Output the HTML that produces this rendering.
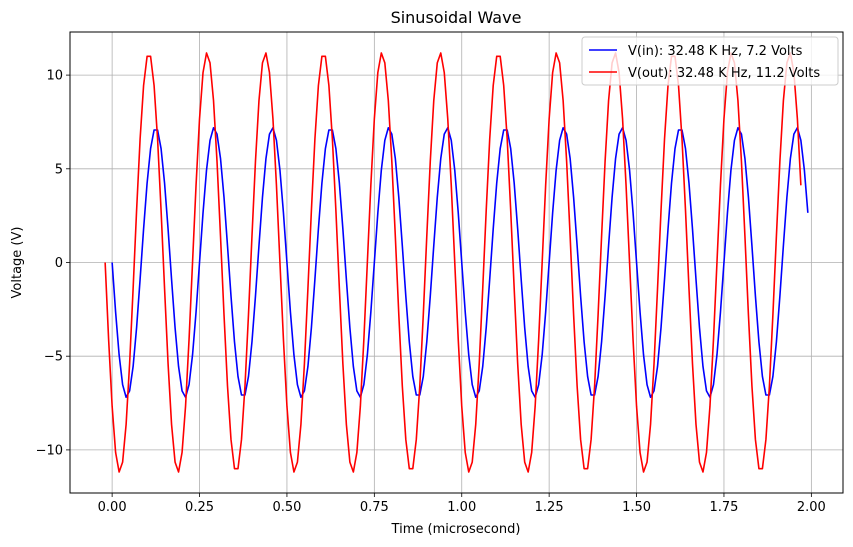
<!DOCTYPE html>
<html><head><meta charset="utf-8"><style>
body{margin:0;background:#fff;}
svg{display:block;font-family:"DejaVu Sans","Liberation Sans",sans-serif;}
</style></head><body>
<svg id="chart" width="853" height="547">
<text x="456" y="23" font-size="16" text-anchor="middle">Sinusoidal Wave</text>
<g id="grid"></g>
<g id="series"></g>
<rect x="70" y="32" width="773" height="461" fill="none" stroke="#000" stroke-width="1"/>
<g id="ticks"></g>
<text x="456" y="533" font-size="13" text-anchor="middle">Time (microsecond)</text>
<text transform="translate(21,262.5) rotate(-90)" font-size="13" text-anchor="middle">Voltage (V)</text>
<g>
<rect x="582" y="37" width="256" height="48" rx="3" fill="#fff" fill-opacity="0.8" stroke="#ccc"/>
<line x1="589" y1="50" x2="617" y2="50" stroke="#0000ff" stroke-width="1.6"/>
<text x="628" y="55" font-size="13">V(in): 32.48 K Hz, 7.2 Volts</text>
<line x1="589" y1="72" x2="617" y2="72" stroke="#ff0000" stroke-width="1.6"/>
<text x="628" y="77" font-size="13">V(out): 32.48 K Hz, 11.2 Volts</text>
</g>
</svg>
<script>
const xTicks=[0,0.25,0.5,0.75,1.0,1.25,1.5,1.75,2.0];
const xTickLabels=["0.00","0.25","0.50","0.75","1.00","1.25","1.50","1.75","2.00"];
const yTicks=[-10,-5,0,5,10];
const yTickLabels=["\u221210","\u22125","0","5","10"];
const vinStart=0, voutStart=-0.02, sampleStep=0.01;
const vin=[
0,-2.65,-4.93,-6.52,-7.19,-6.85,-5.55,-3.47,-0.90,1.79,4.23,6.08,7.07,7.07,6.08,4.23,1.79,-0.90,-3.47,-5.55,-6.85,-7.19,-6.52,-4.93,-2.65,0,2.65,4.93,6.52,7.19,6.85,5.55,3.47,0.90,-1.79,-4.23,-6.08,-7.07,-7.07,-6.08,-4.23,-1.79,0.90,3.47,5.55,6.85,7.19,6.52,4.93,2.65,
0,-2.65,-4.93,-6.52,-7.19,-6.85,-5.55,-3.47,-0.90,1.79,4.23,6.08,7.07,7.07,6.08,4.23,1.79,-0.90,-3.47,-5.55,-6.85,-7.19,-6.52,-4.93,-2.65,0,2.65,4.93,6.52,7.19,6.85,5.55,3.47,0.90,-1.79,-4.23,-6.08,-7.07,-7.07,-6.08,-4.23,-1.79,0.90,3.47,5.55,6.85,7.19,6.52,4.93,2.65,
0,-2.65,-4.93,-6.52,-7.19,-6.85,-5.55,-3.47,-0.90,1.79,4.23,6.08,7.07,7.07,6.08,4.23,1.79,-0.90,-3.47,-5.55,-6.85,-7.19,-6.52,-4.93,-2.65,0,2.65,4.93,6.52,7.19,6.85,5.55,3.47,0.90,-1.79,-4.23,-6.08,-7.07,-7.07,-6.08,-4.23,-1.79,0.90,3.47,5.55,6.85,7.19,6.52,4.93,2.65,
0,-2.65,-4.93,-6.52,-7.19,-6.85,-5.55,-3.47,-0.90,1.79,4.23,6.08,7.07,7.07,6.08,4.23,1.79,-0.90,-3.47,-5.55,-6.85,-7.19,-6.52,-4.93,-2.65,0,2.65,4.93,6.52,7.19,6.85,5.55,3.47,0.90,-1.79,-4.23,-6.08,-7.07,-7.07,-6.08,-4.23,-1.79,0.90,3.47,5.55,6.85,7.19,6.52,4.93,2.65];
const vout=[
0,-4.12,-7.67,-10.14,-11.18,-10.65,-8.64,-5.40,-1.40,2.79,6.59,9.45,11.0,11.0,9.45,6.59,2.79,-1.40,-5.40,-8.64,-10.65,-11.18,-10.14,-7.67,-4.12,0,4.12,7.67,10.14,11.18,10.65,8.64,5.40,1.40,-2.79,-6.59,-9.45,-11.0,-11.0,-9.45,-6.59,-2.79,1.40,5.40,8.64,10.65,11.18,10.14,7.67,4.12,
0,-4.12,-7.67,-10.14,-11.18,-10.65,-8.64,-5.40,-1.40,2.79,6.59,9.45,11.0,11.0,9.45,6.59,2.79,-1.40,-5.40,-8.64,-10.65,-11.18,-10.14,-7.67,-4.12,0,4.12,7.67,10.14,11.18,10.65,8.64,5.40,1.40,-2.79,-6.59,-9.45,-11.0,-11.0,-9.45,-6.59,-2.79,1.40,5.40,8.64,10.65,11.18,10.14,7.67,4.12,
0,-4.12,-7.67,-10.14,-11.18,-10.65,-8.64,-5.40,-1.40,2.79,6.59,9.45,11.0,11.0,9.45,6.59,2.79,-1.40,-5.40,-8.64,-10.65,-11.18,-10.14,-7.67,-4.12,0,4.12,7.67,10.14,11.18,10.65,8.64,5.40,1.40,-2.79,-6.59,-9.45,-11.0,-11.0,-9.45,-6.59,-2.79,1.40,5.40,8.64,10.65,11.18,10.14,7.67,4.12,
0,-4.12,-7.67,-10.14,-11.18,-10.65,-8.64,-5.40,-1.40,2.79,6.59,9.45,11.0,11.0,9.45,6.59,2.79,-1.40,-5.40,-8.64,-10.65,-11.18,-10.14,-7.67,-4.12,0,4.12,7.67,10.14,11.18,10.65,8.64,5.40,1.40,-2.79,-6.59,-9.45,-11.0,-11.0,-9.45,-6.59,-2.79,1.40,5.40,8.64,10.65,11.18,10.14,7.67,4.12];

const L=70,R=843,T=32,B=493;
const xmin=-0.1205,xmax=2.0905,ymin=-12.3,ymax=12.3;
function X(v){return L+(v-xmin)/(xmax-xmin)*(R-L);}
function Y(v){return B-(v-ymin)/(ymax-ymin)*(B-T);}
const NS="http://www.w3.org/2000/svg";
const grid=document.getElementById('grid'),ticks=document.getElementById('ticks'),series=document.getElementById('series');
function mk(tag,attrs,parent){const e=document.createElementNS(NS,tag);for(const k in attrs)e.setAttribute(k,attrs[k]);parent.appendChild(e);return e;}
xTicks.forEach((v,i)=>{
 const x=X(v);
 const g=mk('line',{x1:x,x2:x,y1:T,y2:B,stroke:'#b0b0b0','stroke-width':0.8},grid);
 
 
 const t=mk('line',{x1:x,x2:x,y1:B,y2:B+4,stroke:'#000','stroke-width':0.8},ticks);
 
 
 const l=mk('text',{x:x,y:B+18,'font-size':13,'text-anchor':'middle'},ticks);
 l.textContent=xTickLabels[i];
 
 
});
yTicks.forEach((v,i)=>{
 const y=Y(v);
 const g=mk('line',{x1:L,x2:R,y1:y,y2:y,stroke:'#b0b0b0','stroke-width':0.8},grid);
 
 
 const t=mk('line',{x1:L-4,x2:L,y1:y,y2:y,stroke:'#000','stroke-width':0.8},ticks);
 
 
 const l=mk('text',{x:L-7,y:y+4.5,'font-size':13,'text-anchor':'end'},ticks);
 l.textContent=yTickLabels[i];
 
 
});
function line(vals,start,color,name){
 const pts=vals.map((v,i)=>X(start+i*sampleStep).toFixed(2)+','+Y(v).toFixed(2)).join(' ');
 const p=mk('polyline',{points:pts,fill:'none',stroke:color,'stroke-width':1.6,'stroke-linejoin':'round'},series);
 
 
}
line(vin,vinStart,'#0000ff','vin-line');
line(vout,voutStart,'#ff0000','vout-line');
</script>
</body></html>
